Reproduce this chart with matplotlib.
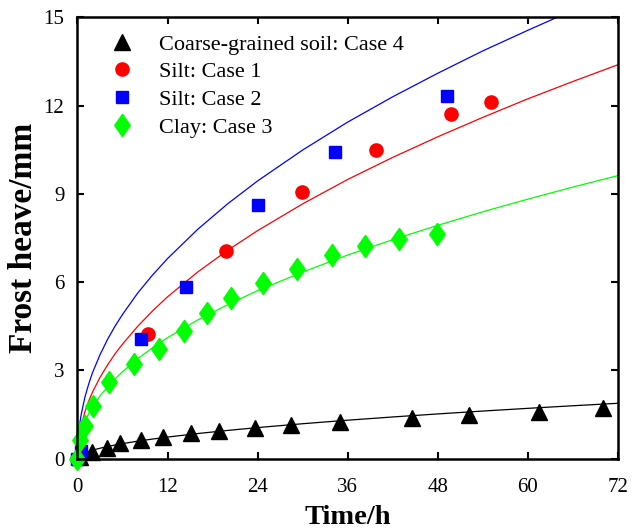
import matplotlib
matplotlib.use("Agg")
import matplotlib.pyplot as plt

plt.rcParams['font.family'] = ['Liberation Serif', 'DejaVu Serif']

# Measured data (time in h, frost heave in mm)
t_coarse = [0.3, 1.9, 3.9, 5.7, 8.5, 11.4, 15.1, 18.9, 23.6, 28.4, 35.0, 44.5, 52.1, 61.5, 70.0]
h_coarse = [0.05, 0.23, 0.37, 0.52, 0.63, 0.73, 0.87, 0.95, 1.04, 1.13, 1.25, 1.37, 1.48, 1.59, 1.73]

t_silt1 = [0.0, 9.35, 19.8, 29.9, 39.7, 49.75, 55.1]
h_silt1 = [0.0, 4.22, 7.07, 9.07, 10.50, 11.71, 12.13]

t_silt2 = [0.0, 0.5, 8.4, 14.4, 24.1, 34.3, 49.2]
h_silt2 = [0.0, 0.25, 4.06, 5.83, 8.61, 10.42, 12.34]

t_clay = [0.0, 0.33, 1.0, 2.1, 4.24, 7.5, 10.9, 14.2, 17.3, 20.4, 24.75, 29.3, 33.9, 38.3, 42.8, 47.85]
h_clay = [0.0, 0.63, 1.10, 1.79, 2.61, 3.20, 3.72, 4.34, 4.94, 5.46, 5.96, 6.45, 6.91, 7.23, 7.48, 7.63]

# Calculated curves
t_fit = [0, 0.1, 0.25, 0.5, 1, 1.5, 2, 3, 4, 5, 6, 8, 10, 12, 16, 20, 24, 30, 36, 42, 48, 54, 60, 66, 72]
fit_coarse = [0, 0.06, 0.095, 0.137, 0.197, 0.244, 0.284, 0.352, 0.410, 0.461, 0.508, 0.591, 0.664,
              0.731, 0.851, 0.957, 1.054, 1.185, 1.305, 1.415, 1.518, 1.616, 1.708, 1.796, 1.880]
fit_silt1 = [0, 0.51, 0.80, 1.13, 1.60, 1.96, 2.26, 2.76, 3.18, 3.56, 3.89, 4.49, 5.02,
             5.50, 6.34, 7.08, 7.75, 8.66, 9.49, 10.24, 10.94, 11.60, 12.23, 12.82, 13.39]
fit_silt2 = [0, 0.71, 1.09, 1.51, 2.10, 2.54, 2.92, 3.53, 4.05, 4.50, 4.90, 5.62, 6.24,
             6.80, 7.79, 8.66, 9.44, 10.49, 11.44, 12.30, 13.10, 13.86, 14.56, 15.24, 15.88]
fit_clay = [0, 0.42, 0.65, 0.91, 1.26, 1.53, 1.75, 2.13, 2.44, 2.71, 2.95, 3.39, 3.77,
            4.11, 4.71, 5.23, 5.71, 6.34, 6.92, 7.44, 7.93, 8.39, 8.82, 9.23, 9.62]

green = '#00ff00'
diamond = [(0, 1), (0.7, 0), (0, -1), (-0.7, 0), (0, 1)]

fig = plt.figure(figsize=(6.32, 5.32), dpi=100)
ax = fig.add_axes([0.1226, 0.138, 0.8554, 0.8295])

# curves
ax.plot(t_fit, fit_coarse, color='black', lw=0.9)
ax.plot(t_fit, fit_silt1, color='red', lw=0.9)
ax.plot(t_fit, fit_silt2, color='blue', lw=0.9)
ax.plot(t_fit, fit_clay, color=green, lw=0.9)

# points
ax.plot(t_coarse, h_coarse, '^', color='black', ms=12, clip_on=False,
        label='Coarse-grained soil: Case 4')
ax.plot(t_silt1, h_silt1, 'o', color='red', ms=9.5, clip_on=False, label='Silt: Case 1')
ax.plot(t_silt2, h_silt2, 's', color='blue', ms=8, clip_on=False, label='Silt: Case 2')
ax.plot(t_clay, h_clay, marker=diamond, ls='none', color=green, ms=16, clip_on=False,
        label='Clay: Case 3')

ax.set_xlim(0, 72)
ax.set_ylim(0, 15)
ax.set_xticks([0, 12, 24, 36, 48, 60, 72])
ax.set_yticks([0, 3, 6, 9, 12, 15])

ax.tick_params(direction='in', top=True, right=True, length=5, width=1.5, labelsize=15)
ax.tick_params(axis='x', pad=14)
ax.tick_params(axis='y', pad=9.5)
for s in ax.spines.values():
    s.set_linewidth(1.8)

ax.set_xlabel('Time/h', fontsize=20.5, fontweight='bold', labelpad=6)
ax.set_ylabel('Frost heave/mm', fontsize=24, fontweight='bold', labelpad=3)

ax.legend(loc='upper left', frameon=False, fontsize=16, handletextpad=0.9,
          borderaxespad=0.35, labelspacing=0.32, handlelength=1.5,
          bbox_to_anchor=(0.021, 1.0))

fig.savefig('out.png', dpi=100)
